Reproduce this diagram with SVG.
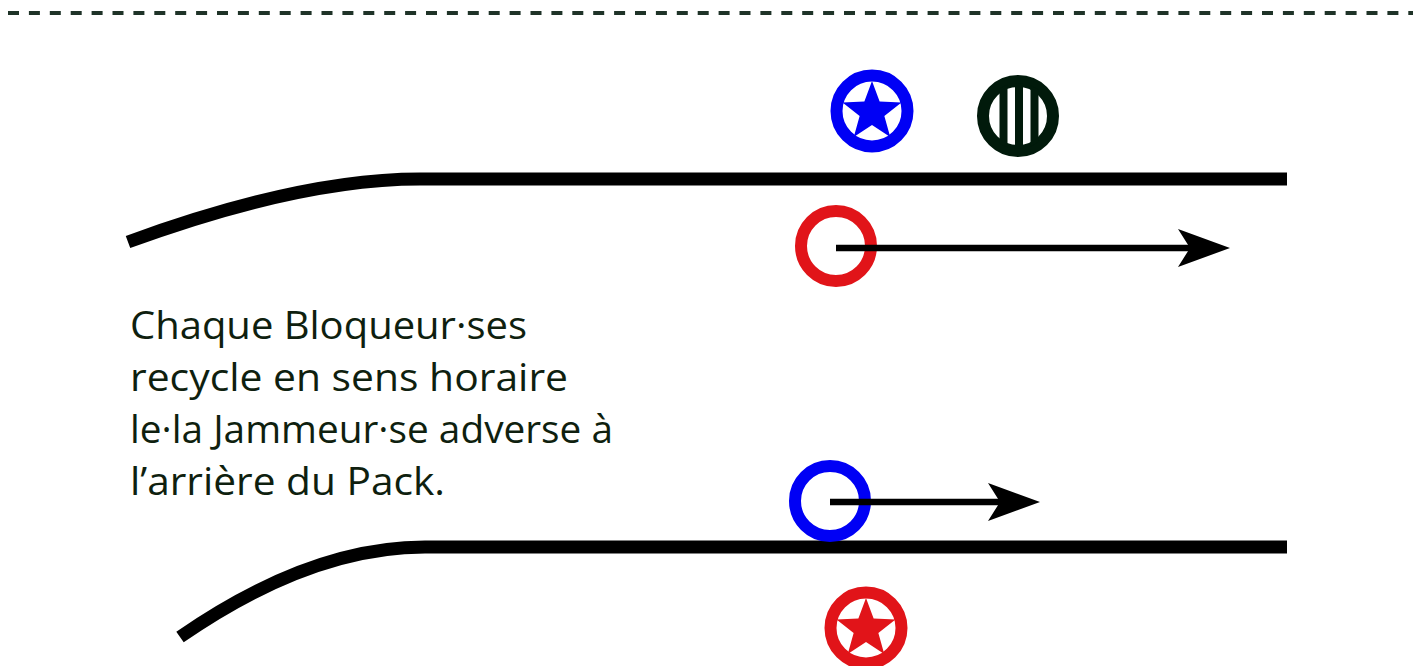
<svg xmlns="http://www.w3.org/2000/svg" width="1413" height="666" viewBox="0 0 1413 666">
<style>
.track{fill:none;stroke:#000;stroke-width:13;stroke-linecap:butt}
.ring{fill:#fff;stroke-width:12}
.blue{stroke:#0000f5}
.red{stroke:#e11419}
.mv{stroke:#000;stroke-width:6.5;fill:none}
.lbl{font-family:"Open Sans","DejaVu Sans",sans-serif;font-size:39px;fill:#0f1f0f}
</style>
<defs>
<polygon id="star" points="0,-31 7.64,-10.52 29.48,-9.58 12.36,4.02 18.22,25.08 0,13 -18.22,25.08 -12.36,4.02 -29.48,-9.58 -7.64,-10.52"/>
<marker id="ah" viewBox="0 0 52 38" refX="22" refY="19" markerWidth="52" markerHeight="38" markerUnits="userSpaceOnUse" orient="auto">
<path d="M0,0 L52,19 L0,38 L12,19 Z" fill="#000"/>
</marker>
<clipPath id="inner"><circle cx="1018" cy="116" r="33"/></clipPath>
</defs>
<line x1="8" y1="13" x2="1413" y2="13" stroke="#1f3328" stroke-width="4" stroke-dasharray="11 9.9"/>
<g id="track-top"><path class="track" d="M128,242 Q300,179 420,179 L1287,179"/></g>
<g id="track-bottom"><path class="track" d="M180,637 Q310,547 425,547 L1287,547"/></g>
<g id="blue-jammer"><circle class="ring blue" cx="872" cy="111" r="35.5"/><use href="#star" x="872" y="112" fill="#0000f5"/></g>
<g id="pivot"><circle cx="1018" cy="116" r="35" fill="#fff" stroke="#011a0b" stroke-width="12"/>
<g clip-path="url(#inner)" fill="#011a0b"><rect x="999.5" y="70" width="8" height="90"/><rect x="1015" y="70" width="8" height="90"/><rect x="1030.5" y="70" width="8" height="90"/></g></g>
<g id="red-blocker"><circle class="ring red" cx="836" cy="246" r="35"/></g>
<g id="blue-blocker"><circle class="ring blue" cx="830" cy="501" r="35"/></g>
<g id="red-jammer"><circle class="ring red" cx="866" cy="628" r="35.5"/><use href="#star" x="866" y="629" fill="#e11419"/></g>
<g id="connectors">
<line class="mv" x1="836" y1="248" x2="1200" y2="248" marker-end="url(#ah)"/>
<line class="mv" x1="830" y1="502" x2="1010" y2="502" marker-end="url(#ah)"/>
</g>
<g id="caption" class="lbl">
<text x="130" y="339" textLength="397" lengthAdjust="spacingAndGlyphs">Chaque Bloqueur·ses</text>
<text x="130" y="391" textLength="438" lengthAdjust="spacingAndGlyphs">recycle en sens horaire</text>
<text x="130" y="443" textLength="483" lengthAdjust="spacingAndGlyphs">le·la Jammeur·se adverse à</text>
<text x="130" y="495" textLength="315" lengthAdjust="spacingAndGlyphs">l’arrière du Pack.</text>
</g>
</svg>
